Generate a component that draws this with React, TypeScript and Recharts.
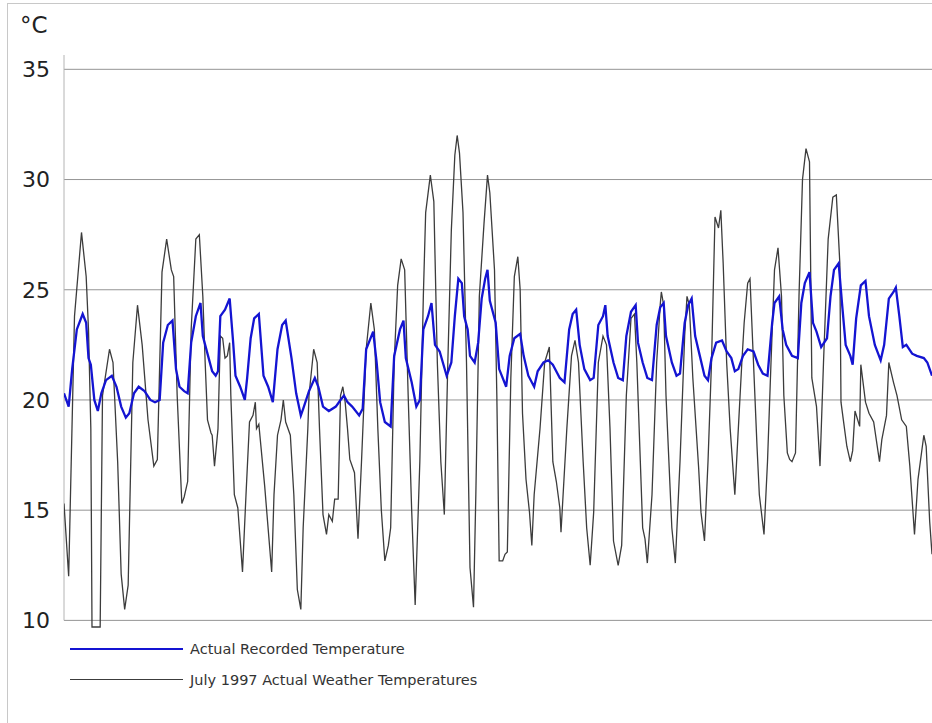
import { LineChart, Line, XAxis, YAxis, CartesianGrid, Legend, ReferenceLine } from 'recharts';

// hour of the month (0 = 1 July 00:00, 744 = end of 31 July)
const weatherHours = [
  0, 4, 9, 15, 19, 21, 23, 24, 31, 33, 39, 42, 46, 49, 52, 55, 59, 63, 67, 72, 77, 80, 84, 88, 92, 94, 97,
  101, 103, 106, 109, 113, 116, 119, 121, 123, 126, 127, 129, 132, 134, 136, 138, 140, 142, 143, 146, 149,
  153, 156, 159, 162, 164, 165, 167, 172, 178, 180, 183, 186, 188, 190, 194, 197, 200, 203, 205, 209,
  210, 214, 217, 219, 222, 225, 227, 230, 232, 235, 237, 239, 241, 243, 245, 249, 252, 255, 259, 263,
  266, 269, 272, 275, 278, 280, 283, 286, 289, 292, 295, 298, 301, 305, 308, 310, 314, 317, 320, 323,
  326, 329, 332, 335, 337, 339, 342, 345, 348, 351, 353, 356, 360, 363, 365, 369, 371, 373, 376, 378,
  380, 383, 386, 389, 391, 393, 396, 399, 401, 403, 408, 412, 416, 419, 422, 425, 426, 431, 435, 438,
  441, 445, 448, 451, 454, 458, 462, 465, 468, 471, 475, 478, 482, 486, 489, 491, 494, 496, 498, 500,
  504, 508, 511, 512, 514, 516, 521, 524, 528, 532, 534, 536, 539, 544, 546, 549, 552, 555, 558, 561,
  563, 565, 568, 571, 575, 578, 581, 583, 586, 588, 591, 594, 596, 600, 603, 606, 609, 612, 615, 617,
  620, 622, 624, 627, 630, 633, 636, 639, 641, 645, 648, 651, 655, 659, 662, 665, 666, 668, 671, 674,
  676, 678, 682, 683, 687, 690, 694, 699, 701, 705, 707, 711, 714, 718, 722, 725, 729, 732, 737, 739,
  742, 744,
];
const weatherTemps = [
  15.3, 12.0, 23.8, 27.6, 25.6, 23.2, 18.7, 9.7, 9.7, 20.2, 22.3, 21.7, 17.2, 12.1, 10.5, 11.6, 21.7, 24.3, 22.5, 19.1, 17.0, 17.3, 25.8, 27.3, 25.9, 25.6, 20.2,
  15.3, 15.6, 16.3, 23.2, 27.3, 27.5, 24.7, 21.7, 19.1, 18.5, 18.4, 17.0, 18.7, 22.9, 22.8, 21.9, 22.0, 22.6, 20.2, 15.7, 15.1,
  12.2, 15.7, 19.0, 19.3, 19.9, 18.7, 18.9, 16.1, 12.2, 15.7, 18.4, 19.1, 20.0, 19.0, 18.4, 15.7, 11.4, 10.5, 14.2, 18.7,
  20.2, 22.3, 21.7, 18.7, 14.8, 13.9, 14.8, 14.5, 15.5, 15.5, 20.2, 20.6, 19.9, 18.7, 17.3, 16.7, 13.7, 17.2, 22.3, 24.4,
  23.2, 18.7, 15.0, 12.7, 13.4, 14.2, 21.7, 25.2, 26.4, 25.9, 20.2, 15.0, 10.7, 17.2, 24.7, 28.5, 30.2, 29.0, 21.7, 17.2,
  14.8, 21.7, 27.7, 31.1, 32.0, 31.2, 28.5, 21.7, 12.4, 10.6, 15.7, 24.7, 28.0, 30.2, 29.4, 25.9, 20.2, 12.7, 12.7, 13.0,
  13.1, 21.0, 25.6, 26.5, 25.0, 19.4, 16.4, 14.9, 13.4, 15.7, 18.7, 21.7, 22.4, 17.2, 16.3, 15.1, 14.0, 18.7, 22.0, 22.7,
  21.7, 17.2, 14.2, 12.5, 14.9, 21.7, 22.9, 22.5, 18.7, 13.6, 12.5, 13.4, 20.2, 23.7, 23.9, 21.7, 17.2, 14.2, 13.7, 12.6,
  15.7, 21.7, 24.3, 24.9, 24.3, 20.2, 14.2, 12.6, 17.2, 22.9, 24.7, 24.3, 21.0, 16.9, 14.9, 13.6, 17.2, 21.7, 28.3, 27.8,
  28.6, 26.2, 21.7, 18.7, 15.7, 18.7, 21.7, 23.5, 25.3, 25.5, 21.7, 17.9, 15.7, 13.9, 17.2, 21.7, 25.9, 26.9, 24.7, 20.2,
  17.6, 17.3, 17.2, 17.6, 24.7, 30.0, 31.4, 30.8, 21.0, 19.7, 17.0, 21.7, 27.3, 29.2, 29.3, 26.2, 19.9, 19.1, 17.9, 17.2,
  17.7, 19.5, 18.8, 21.6, 19.9, 19.4, 19.0, 17.2, 18.2, 19.3, 21.7, 20.8, 20.2, 19.1, 18.8, 17.0, 13.9, 16.4, 18.4, 17.9,
  14.5, 13.0,
];

const recordedHours = [
  0, 4, 7, 11, 16, 19, 21, 23, 26, 29, 32, 36, 41, 45, 49, 53, 56, 60, 64, 69, 74, 78, 82, 85, 89, 93, 96, 99,
  103, 106, 109, 113, 117, 119, 124, 127, 130, 132, 134, 138, 142, 145, 147, 151, 155, 157, 160, 163, 167,
  171, 175, 179, 183, 187, 190, 195, 199, 203, 205, 210, 215, 218, 222, 227, 233, 237, 240, 243, 247,
  253, 256, 259, 265, 268, 271, 275, 280, 283, 288, 291, 293, 298, 302, 305, 308, 312, 315, 318, 322,
  328, 332, 335, 338, 341, 343, 346, 348, 352, 355, 358, 361, 363, 365, 370, 373, 379, 382, 386, 391,
  394, 398, 403, 406, 411, 415, 419, 425, 429, 433, 436, 439, 442, 446, 451, 454, 458, 462, 464, 466,
  471, 475, 479, 482, 486, 490, 492, 496, 500, 504, 508, 511, 514, 516, 521, 525, 528, 532, 535, 538,
  541, 545, 549, 552, 555, 559, 564, 568, 572, 575, 578, 582, 586, 591, 595, 599, 603, 607, 609, 613,
  616, 619, 624, 629, 632, 635, 639, 642, 645, 649, 654, 657, 660, 664, 667, 670, 674, 676, 679, 683,
  687, 690, 695, 700, 703, 707, 711, 713, 716, 719, 722, 727, 731, 737, 740, 744,
];
const recordedTemps = [
  20.3, 19.7, 21.4, 23.2, 23.9, 23.5, 21.9, 21.6, 20.0, 19.5, 20.3, 20.9, 21.1, 20.6, 19.7, 19.2, 19.4, 20.3, 20.6, 20.4, 20.0, 19.9, 20.0, 22.6, 23.4, 23.6, 21.4, 20.6,
  20.4, 20.3, 22.6, 23.8, 24.4, 22.9, 21.9, 21.3, 21.1, 21.3, 23.8, 24.1, 24.6, 22.6, 21.1, 20.6, 20.0, 21.0, 22.8, 23.7, 23.9,
  21.1, 20.6, 19.9, 22.3, 23.4, 23.6, 21.9, 20.3, 19.3, 19.6, 20.4, 21.0, 20.6, 19.7, 19.5, 19.7, 20.0, 20.2, 19.9, 19.7,
  19.3, 19.6, 22.3, 23.1, 21.7, 19.9, 19.0, 18.8, 22.0, 23.2, 23.6, 21.9, 20.8, 19.7, 20.0, 23.2, 23.8, 24.4, 22.5, 22.2,
  21.1, 21.7, 23.8, 25.5, 25.3, 23.8, 23.2, 22.0, 21.7, 22.6, 24.6, 25.5, 25.9, 24.5, 23.5, 21.4, 20.6, 22.0, 22.8, 23.0,
  22.0, 21.1, 20.6, 21.3, 21.7, 21.8, 21.6, 21.0, 20.8, 23.2, 23.9, 24.1, 22.5, 21.4, 20.9, 21.0, 23.4, 23.8, 24.3, 22.9,
  21.7, 21.0, 20.9, 22.9, 24.0, 24.3, 22.6, 21.7, 21.0, 20.9, 23.4, 24.2, 24.4, 22.9, 21.7, 21.1, 21.2, 23.5, 24.3, 24.6,
  22.9, 22.0, 21.1, 20.9, 21.9, 22.6, 22.7, 22.2, 21.9, 21.3, 21.4, 22.0, 22.3, 22.2, 21.6, 21.2, 21.1, 23.5, 24.4, 24.7,
  23.2, 22.5, 22.0, 21.9, 24.4, 25.3, 25.8, 23.5, 23.1, 22.4, 22.8, 24.7, 25.9, 26.2, 24.3, 22.5, 22.0, 21.6, 23.7, 25.2,
  25.4, 23.8, 22.5, 21.8, 22.5, 24.6, 24.9, 25.1, 23.8, 22.4, 22.5, 22.1, 22.0, 21.9, 21.7, 21.1,
];

const yTicks = [10, 15, 20, 25, 30, 35];
const yMin = 9.7;
const yMax = 35.65;

const weatherData = weatherHours.map((h, i) => ({ h, t: weatherTemps[i] }));
const recordedData = recordedHours.map((h, i) => ({ h, t: recordedTemps[i] }));

const series = [
  { name: 'Actual Recorded Temperature', color: '#1414d2', width: 2.3 },
  { name: 'July 1997 Actual Weather Temperatures', color: '#3c3c3c', width: 1.3 },
];

const LegendBox = () => (
  <div style={{ fontFamily: '"DejaVu Sans", Verdana, sans-serif', fontSize: 14.5, color: '#333' }}>
    {series.map((s) => (
      <div key={s.name} style={{ display: 'flex', alignItems: 'center', height: 31 }}>
        <div style={{ width: 113, height: 0, borderTop: `${s.width}px solid ${s.color}`, marginRight: 7 }} />
        <span>{s.name}</span>
      </div>
    ))}
  </div>
);

export default function App() {
  return (
    <div style={{ position: 'absolute', left: 0, top: 0, width: 932, height: 723, background: '#fff', overflow: 'hidden' }}>
      <div
        style={{
          position: 'absolute', left: 7, top: 3, width: 940, height: 740,
          borderTop: '1px solid #c8c8c8', borderLeft: '1px solid #c8c8c8',
        }}
      />
      <div
        style={{
          position: 'absolute', left: 20, top: 12, fontFamily: '"DejaVu Sans", Verdana, sans-serif',
          fontSize: 23, color: '#222',
        }}
      >
        °C
      </div>
      <LineChart
        width={932}
        height={723}
        margin={{ top: 55, right: 0, left: 0, bottom: 96 }}
        style={{ position: 'absolute', left: 0, top: 0 }}
      >
        <CartesianGrid vertical={false} stroke="#959595" horizontalValues={yTicks} />
        <XAxis type="number" dataKey="h" domain={[0, 744]} hide allowDataOverflow />
        <YAxis
          type="number"
          domain={[yMin, yMax]}
          ticks={yTicks}
          width={64}
          axisLine={false}
          tickLine={false}
          tickSize={0}
          tickMargin={14}
          tick={{ fontSize: 22, fill: '#222', fontFamily: '"DejaVu Sans", Verdana, sans-serif' }}
        />
        <ReferenceLine
          segment={[{ x: 0, y: 10 }, { x: 0, y: yMax }]}
          stroke="#b4b4b4"
        />
        <Legend
          layout="horizontal"
          verticalAlign="middle"
          content={<LegendBox />}
          wrapperStyle={{ position: 'absolute', left: 70, top: 633, width: 500, height: 62 }}
        />
        <Line
          data={weatherData}
          dataKey="t"
          name={series[1].name}
          type="linear"
          stroke={series[1].color}
          strokeWidth={series[1].width}
          dot={false}
          isAnimationActive={false}
        />
        <Line
          data={recordedData}
          dataKey="t"
          name={series[0].name}
          type="linear"
          stroke={series[0].color}
          strokeWidth={series[0].width}
          dot={false}
          isAnimationActive={false}
        />
      </LineChart>
    </div>
  );
}
